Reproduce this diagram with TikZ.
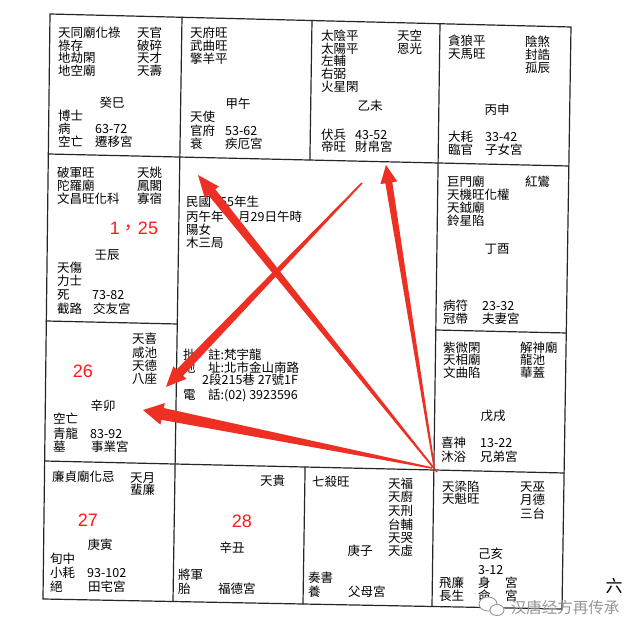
\documentclass[tikz,border=0pt]{standalone}
\usepackage{fontspec}
\usetikzlibrary{calc}
\newfontfamily\cjk{Noto Sans CJK TC}
\newfontfamily\cjksc{Noto Sans CJK SC}
\newfontfamily\arial{Liberation Sans}
\definecolor{arrowred}{RGB}{238,48,36}
\definecolor{numred}{RGB}{255,25,25}
\definecolor{wmgray}{RGB}{150,150,150}
\tikzset{
  gridline/.style={line width=1.2pt, draw=black!85, line cap=round},
  t/.style={anchor=west, inner sep=0pt, text height=11pt, text depth=1.5pt, font=\cjk\fontsize{12.5}{13}\selectfont},
  tc/.style={t, anchor=center},
  rednum/.style={anchor=center, inner sep=0pt, text=numred, font=\arial\fontsize{18}{18}\selectfont},
  wm/.style={anchor=center, inner sep=0pt, text=wmgray, font=\cjksc\fontsize{15.5}{16}\selectfont},
}
\newcommand\tarrow[6]{%
  \coordinate (#1b) at ($(#3)!#6!(#2)$);
  \fill[arrowred] ($(#2)!0.8pt!90:(#3)$) -- ($(#1b)!#4!90:(#3)$) -- ($(#1b)!#5!90:(#3)$) -- (#3)
     -- ($(#1b)!#5!-90:(#3)$) -- ($(#1b)!#4!-90:(#3)$) -- ($(#2)!0.8pt!-90:(#3)$) -- cycle;
}
\begin{document}
\begin{tikzpicture}[x=1pt,y=-1pt]
\fill[white] (0,0) rectangle (641,636);
\path[use as bounding box] (0,0) rectangle (641,636);
% grid intersections
\coordinate (P00) at (50,14);    \coordinate (P01) at (182,17.3);  \coordinate (P02) at (312,20.5);  \coordinate (P03) at (440,23.7);  \coordinate (P04) at (571,27);
\coordinate (P10) at (48.3,154); \coordinate (P11) at (179.9,157); \coordinate (P12) at (309.9,160);  \coordinate (P13) at (438.1,163); \coordinate (P14) at (568.8,166);
\coordinate (P20) at (46.3,321); \coordinate (P21) at (177.3,324);                                     \coordinate (P23) at (435.8,330); \coordinate (P24) at (566.3,333);
\coordinate (P30) at (44.6,461); \coordinate (P31) at (175.1,464); \coordinate (P32) at (305.1,467);  \coordinate (P33) at (433.9,470); \coordinate (P34) at (564.1,473);
\coordinate (P40) at (43,599);   \coordinate (P41) at (173,601.5); \coordinate (P42) at (303,604);    \coordinate (P43) at (432,606.5); \coordinate (P44) at (562,609);
\draw[gridline] (P00) -- (P04) -- (P44) -- (P40) -- cycle;
\draw[gridline] (P10) -- (P14);
\draw[gridline] (P20) -- (P21);
\draw[gridline] (P23) -- (P24);
\draw[gridline] (P30) -- (P34);
\draw[gridline] (P01) -- (P41);
\draw[gridline] (P02) -- (P12);
\draw[gridline] (P32) -- (P42);
\draw[gridline] (P03) -- (P43);
% ---- cell si
\node[t] (s1) at (58,33) {天同廟化祿};
\node[t] (s2) at (58,46) {祿存};
\node[t] (s3) at (58,58) {地劫閑};
\node[t] (s4) at (58,71) {地空廟};
\node[t] (s5) at (137,33) {天官};
\node[t] (s6) at (137,46) {破碎};
\node[t] (s7) at (137,58) {天才};
\node[t] (s8) at (137,71) {天壽};
\node[tc] (s9) at (112,103) {癸巳};
\node[t] (s10) at (58,116) {博士};
\node[t] (s11) at (58,129) {病};
\node[t] (s12) at (95,129) {63-72};
\node[t] (s13) at (58,142) {空亡};
\node[t] (s14) at (95,142) {遷移宮};
% ---- cell wu
\node[t] (w1) at (190,33) {天府旺};
\node[t] (w2) at (190,46) {武曲旺};
\node[t] (w3) at (190,59) {擎羊平};
\node[tc] (w4) at (238,104) {甲午};
\node[t] (w5) at (190,117) {天使};
\node[t] (w6) at (190,131) {官府};
\node[t] (w7) at (225,131) {53-62};
\node[t] (w8) at (190,144) {衰};
\node[t] (w9) at (225,144) {疾厄宮};
% ---- cell wei
\node[t] (v1) at (321,36) {太陰平};
\node[t] (v2) at (321,49) {太陽平};
\node[t] (v3) at (321,61) {左輔};
\node[t] (v4) at (321,74) {右弼};
\node[t] (v5) at (321,87) {火星閑};
\node[t] (v6) at (397,36) {天空};
\node[t] (v7) at (397,49) {恩光};
\node[tc] (v8) at (370,106) {乙未};
\node[t] (v9) at (321,135) {伏兵};
\node[t] (v10) at (355,135) {43-52};
\node[t] (v11) at (321,147) {帝旺};
\node[t] (v12) at (355,147) {財帛宮};
% ---- cell shen
\node[t] (h1) at (448,41) {貪狼平};
\node[t] (h2) at (448,54) {天馬旺};
\node[t] (h3) at (525,42) {陰煞};
\node[t] (h4) at (525,55) {封誥};
\node[t] (h5) at (525,68) {孤辰};
\node[tc] (h6) at (497,110) {丙申};
\node[t] (h7) at (448,137) {大耗};
\node[t] (h8) at (485,137) {33-42};
\node[t] (h9) at (448,150) {臨官};
\node[t] (h10) at (485,150) {子女宮};
% ---- cell chen
\node[t] (c1) at (57,173) {破軍旺};
\node[t] (c2) at (57,186) {陀羅廟};
\node[t] (c3) at (57,199) {文昌旺化科};
\node[t] (c4) at (137,173) {天姚};
\node[t] (c5) at (137,186) {鳳閣};
\node[t] (c6) at (137,199) {寡宿};
\node[rednum] (c7) at (134,228) {1{\cjk，}25};
\node[tc] (c8) at (107,255) {壬辰};
\node[t] (c9) at (57,268) {天傷};
\node[t] (c10) at (57,281) {力士};
\node[t] (c11) at (57,295) {死};
\node[t] (c12) at (92,295) {73-82};
\node[t] (c13) at (57,309) {截路};
\node[t] (c14) at (93,309) {交友宮};
% ---- cell you
\node[t] (y1) at (447,182) {巨門廟};
\node[t] (y2) at (447,195) {天機旺化權};
\node[t] (y3) at (447,208) {天鉞廟};
\node[t] (y4) at (447,221) {鈴星陷};
\node[t] (y5) at (525,182) {紅鸞};
\node[tc] (y6) at (497,249) {丁酉};
\node[t] (y7) at (443,306) {病符};
\node[t] (y8) at (482,306) {23-32};
\node[t] (y9) at (443,319) {冠帶};
\node[t] (y10) at (482,319) {夫妻宮};
% ---- cell xu
\node[t] (x1) at (443,348) {紫微閑};
\node[t] (x2) at (443,360) {天相廟};
\node[t] (x3) at (443,373) {文曲陷};
\node[t] (x4) at (520,348) {解神廟};
\node[t] (x5) at (520,360) {龍池};
\node[t] (x6) at (520,373) {華蓋};
\node[tc] (x7) at (493,416) {戊戌};
\node[t] (x8) at (441,443) {喜神};
\node[t] (x9) at (480,443) {13-22};
\node[t] (x10) at (441,457) {沐浴};
\node[t] (x11) at (480,457) {兄弟宮};
% ---- cell mao
\node[t] (m1) at (132,339) {天喜};
\node[t] (m2) at (132,353) {咸池};
\node[t] (m3) at (132,366) {天德};
\node[t] (m4) at (132,379) {八座};
\node[rednum] (m5) at (83,371) {26};
\node[tc] (m6) at (103,406) {辛卯};
\node[t] (m7) at (53,419) {空亡};
\node[t] (m8) at (53,434) {青龍};
\node[t] (m9) at (90,434) {83-92};
\node[t] (m10) at (53,447) {墓};
\node[t] (m11) at (91,447) {事業宮};
% ---- cell yin
\node[t] (i1) at (52,477) {廉貞廟化忌};
\node[t] (i2) at (130,478) {天月};
\node[t] (i3) at (130,490) {蜚廉};
\node[rednum] (i4) at (88,520) {27};
\node[tc] (i5) at (100,545) {庚寅};
\node[t] (i6) at (50,559) {旬中};
\node[t] (i7) at (50,573) {小耗};
\node[t] (i8) at (87,573) {93-102};
\node[t] (i9) at (50,587) {絕};
\node[t] (i10) at (88,587) {田宅宮};
% ---- cell chou
\node[t] (o1) at (260,481) {天貴};
\node[rednum] (o2) at (242,521) {28};
\node[tc] (o3) at (232,548) {辛丑};
\node[t] (o4) at (178,575) {將軍};
\node[t] (o5) at (178,589) {胎};
\node[t] (o6) at (218,589) {福德宮};
% ---- cell zi
\node[t] (z1) at (312,482) {七殺旺};
\node[t] (z2) at (388,484) {天福};
\node[t] (z3) at (388,497) {天廚};
\node[t] (z4) at (388,511) {天刑};
\node[t] (z5) at (388,525) {台輔};
\node[t] (z6) at (388,538) {天哭};
\node[t] (z7) at (388,551) {天虛};
\node[tc] (z8) at (360,551) {庚子};
\node[t] (z9) at (308,578) {奏書};
\node[t] (z10) at (308,592) {養};
\node[t] (z11) at (348,592) {父母宮};
% ---- cell hai
\node[t] (a1) at (442,487) {天梁陷};
\node[t] (a2) at (442,499) {天魁旺};
\node[t] (a3) at (520,487) {天巫};
\node[t] (a4) at (520,500) {月德};
\node[t] (a5) at (520,514) {三台};
\node[t] (a6) at (478,554) {己亥};
\node[t] (a7) at (478,570) {3-12};
\node[t] (a8) at (439,583) {飛廉};
\node[t] (a9) at (478,583) {身};
\node[t] (a10) at (505,583) {宮};
\node[t] (a11) at (439,596) {長生};
\node[t] (a12) at (478,596) {命};
\node[t] (a13) at (505,596) {宮};
% ---- centre
\node[t] (k1) at (186,202) {民國};
\node[t] (k2) at (220,202) {55年生};
\node[t] (k3) at (186,217) {丙午年};
\node[t] (k4) at (238,217) {月29日午時};
\node[t] (k5) at (186,230) {陽女};
\node[t] (k6) at (186,243) {木三局};
\node[t] (k7) at (183,355) {批　註:梵宇龍};
\node[t] (k8) at (183,368) {地　址:北市金山南路};
\node[t] (k9) at (202,380) {2段215巷 27號1F};
\node[t] (k10) at (183,395) {電　話:(02) 3923596};
% ---- red arrows
\coordinate (ta1) at (437,472); \coordinate (pa1) at (198,175);
\coordinate (ta2) at (434,466); \coordinate (pa2) at (386,165);
\coordinate (ta3) at (362,183); \coordinate (pa3) at (166,387);
\coordinate (ta4) at (432,468); \coordinate (pa4) at (143,410);
\tarrow{ra}{ta1}{pa1}{4.5pt}{9pt}{22pt}
\tarrow{rb}{ta2}{pa2}{3.5pt}{8.5pt}{18pt}
\tarrow{rc}{ta3}{pa3}{4.5pt}{9pt}{20pt}
\tarrow{rd}{ta4}{pa4}{6pt}{11pt}{20pt}
% ---- corner mark and watermark
\node[anchor=center, inner sep=0pt, font=\cjk\fontsize{17}{17}\selectfont] (six) at (614,586) {六};
\node[wm] (wmt) at (565,608) {汉唐经方再传承};
\draw[wmgray, fill=white, line width=0.9pt] (488,604) ellipse [x radius=9, y radius=7];
\draw[wmgray, fill=white, line width=0.9pt] (497,610) ellipse [x radius=7, y radius=5.5];
\end{tikzpicture}
\end{document}
